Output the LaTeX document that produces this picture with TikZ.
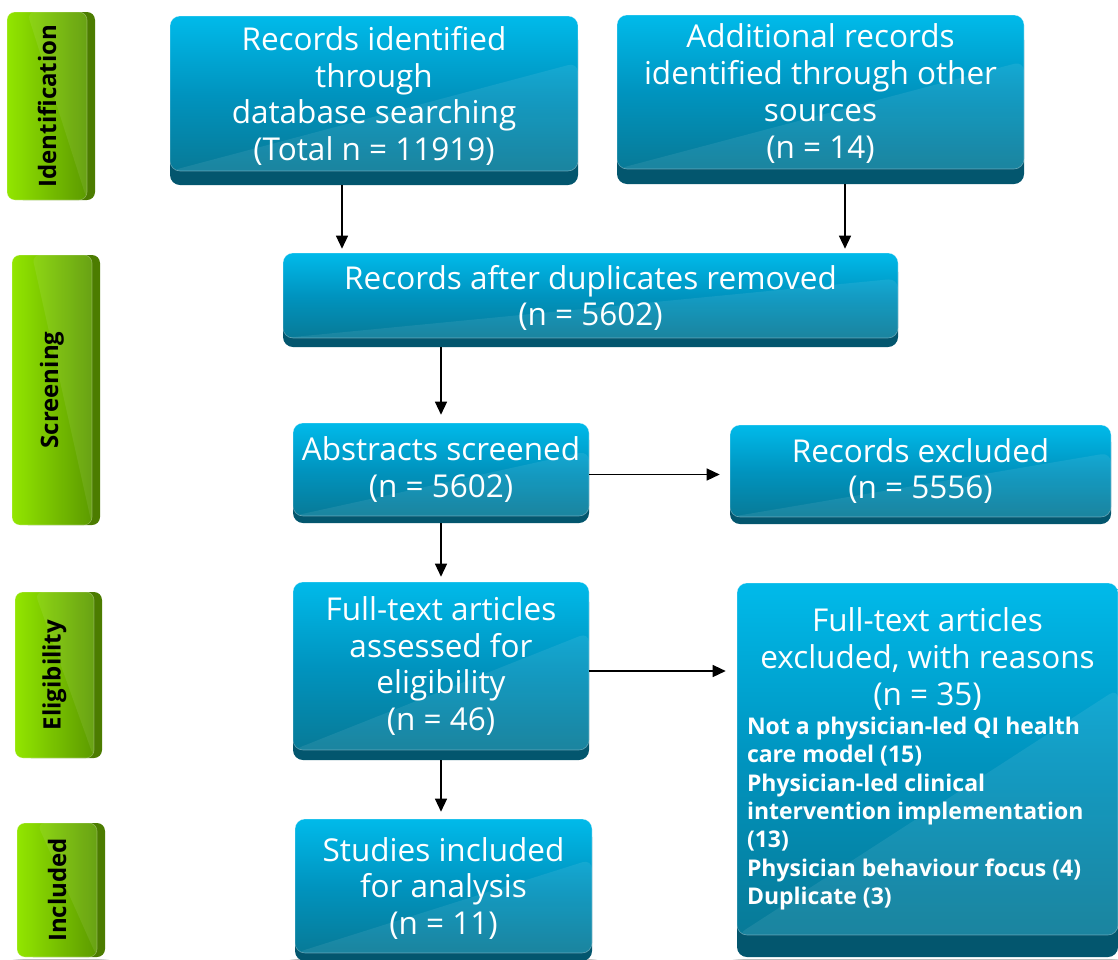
\documentclass[tikz,border=0pt]{standalone}
\usepackage{fontspec}
\setmainfont{Open Sans}
\newfontfamily\grfont{Open Sans}
\usetikzlibrary{arrows.meta,calc,backgrounds}
\definecolor{bTop}{HTML}{00BAEA}
\definecolor{bMid}{HTML}{0094BF}
\definecolor{bBot}{HTML}{087A97}
\definecolor{bBase}{HTML}{03566E}
\definecolor{gL}{HTML}{92E600}
\definecolor{gR}{HTML}{5C9A00}
\definecolor{gStrip}{HTML}{4C7C00}
\newcommand\myshadow[3]{%
  \foreach \k in {1,...,6}{
    \fill[black, opacity=0.05, rounded corners=12pt]
      ($(#1.north west)+(-\k+1,-8+\k)$) rectangle ($(#1.south east)+(#3+\k-1,-#2-3-\k)$);
  }}
\tikzset{
  bluebox/.style={rectangle, rounded corners=10pt, top color=bTop, bottom color=bBot, middle color=bMid,
    draw=white, draw opacity=0.35, line width=0.6pt, text=white, align=center, inner sep=0pt,
    font=\fontsize{31.5}{36.7}\selectfont,
    preaction={fill=bBase, transform canvas={yshift=-#1}},
    path picture={\fill[white,opacity=0.08] (path picture bounding box.south west) -- (path picture bounding box.south east) -- ($(path picture bounding box.north east)!0.3!(path picture bounding box.south east)$) -- cycle;}},
  greenbox/.style={rectangle, rounded corners=8pt, left color=gL, right color=gR,
    draw=white, draw opacity=0.3, line width=0.6pt, inner sep=0pt, text=black,
    font=\grfont\bfseries\fontsize{24}{30}\selectfont,
    preaction={fill=gStrip, transform canvas={xshift=8pt}},
    path picture={\fill[white,opacity=0.08] ($(path picture bounding box.north west)!0.25!(path picture bounding box.north east)$) -- (path picture bounding box.north east) -- (path picture bounding box.south east) -- cycle;}},
  arr/.style={line width=1.3pt, -{Triangle[length=13pt,width=12pt]}}
}
\begin{document}
\begin{tikzpicture}[x=1pt,y=1pt]
\useasboundingbox (0,0) rectangle (1118,-959);
\fill[white] (0,0) rectangle (1118,-959);
% stage labels
\node[greenbox, minimum width=80pt, minimum height=188pt] (G1) at (47,-106) {\rotatebox{90}{Identification}};
\node[greenbox, minimum width=80pt, minimum height=270pt] (G2) at (52,-390) {\rotatebox{90}{Screening}};
\node[greenbox, minimum width=79pt, minimum height=166pt] (G3) at (54.5,-675) {\rotatebox{90}{Eligibility}};
\node[greenbox, minimum width=80pt, minimum height=134pt] (G4) at (57,-890) {\rotatebox{90}{Included}};
% flow boxes
\node[bluebox=14pt, minimum width=408pt, minimum height=155pt, text depth=0pt] (B1) at (374,-93.5)
  {Records identified\\ through\\ database searching\\ (Total n = 11919)};
\node[bluebox=15pt, minimum width=407pt, minimum height=154pt, text depth=2pt] (B2) at (820.5,-92)
  {Additional records\\ identified through other\\ sources\\ (n = 14)};
\node[bluebox=9pt, minimum width=615pt, minimum height=85pt, text depth=0pt] (B3) at (590.5,-295.5)
  {Records after duplicates removed\\ (n = 5602)};
\node[bluebox=7pt, minimum width=296pt, minimum height=93pt] (B4) at (441,-469.5)
  {Abstracts screened\\ (n = 5602)};
\node[bluebox=7pt, minimum width=381pt, minimum height=92pt] (B5) at (920.5,-471)
  {Records excluded\\ (n = 5556)};
\node[bluebox=10pt, minimum width=296pt, minimum height=168pt] (B6) at (441,-666)
  {Full-text articles\\ assessed for\\ eligibility\\ (n = 46)};
\node[bluebox=22pt, minimum width=381pt, minimum height=352pt, text width=361pt, align=left] (B7) at (927.5,-759)
  {{\centering\spaceskip=0pt\xspaceskip=0pt Full-text articles\\ excluded, with reasons\\ (n = 35)\par}\vspace{1pt}
   {\raggedright\bfseries\fontsize{23}{28.3}\selectfont\spaceskip=0pt\xspaceskip=0pt Not a physician-led QI health\par care model (15)\par Physician-led clinical\par intervention implementation\par (13)\par Physician behaviour focus (4)\par Duplicate (3)\par}};
\node[bluebox=8pt, minimum width=297pt, minimum height=134pt, text depth=0pt] (B8) at (443.5,-886)
  {Studies included\\ for analysis\\ (n = 11)};
% shadows
\begin{scope}[on background layer]
\myshadow{G1}{0}{8}
\myshadow{G2}{0}{8}
\myshadow{G3}{0}{8}
\myshadow{G4}{0}{8}
\myshadow{B1}{14}{0}
\myshadow{B2}{15}{0}
\myshadow{B3}{9}{0}
\myshadow{B4}{7}{0}
\myshadow{B5}{7}{0}
\myshadow{B6}{10}{0}
\myshadow{B7}{22}{0}
\myshadow{B8}{8}{0}
\end{scope}
% connectors
\draw[arr, shorten >=4pt] ([shift={(-32,-14)}]B1.south) -- ([xshift=-32pt]B1.south |- B3.north);
\draw[arr, shorten >=4pt] ([shift={(24.5,-15)}]B2.south) -- ([xshift=24.5pt]B2.south |- B3.north);
\draw[arr, shorten >=8pt] ([yshift=-9pt]B3.south -| B4.north) -- (B4.north);
\draw[arr, shorten >=5pt] ([yshift=-7pt]B4.south) -- (B6.north);
\draw[arr, shorten >=10pt] ([yshift=-5pt]B4.east) -- ([yshift=-5pt]B4.east -| B5.west);
\draw[arr, shorten >=11pt] ([yshift=-5pt]B6.east) -- ([yshift=-5pt]B6.east -| B7.west);
\draw[arr, shorten >=7pt] ([yshift=-10pt]B6.south) -- (B6.south |- B8.north);
\end{tikzpicture}
\end{document}
